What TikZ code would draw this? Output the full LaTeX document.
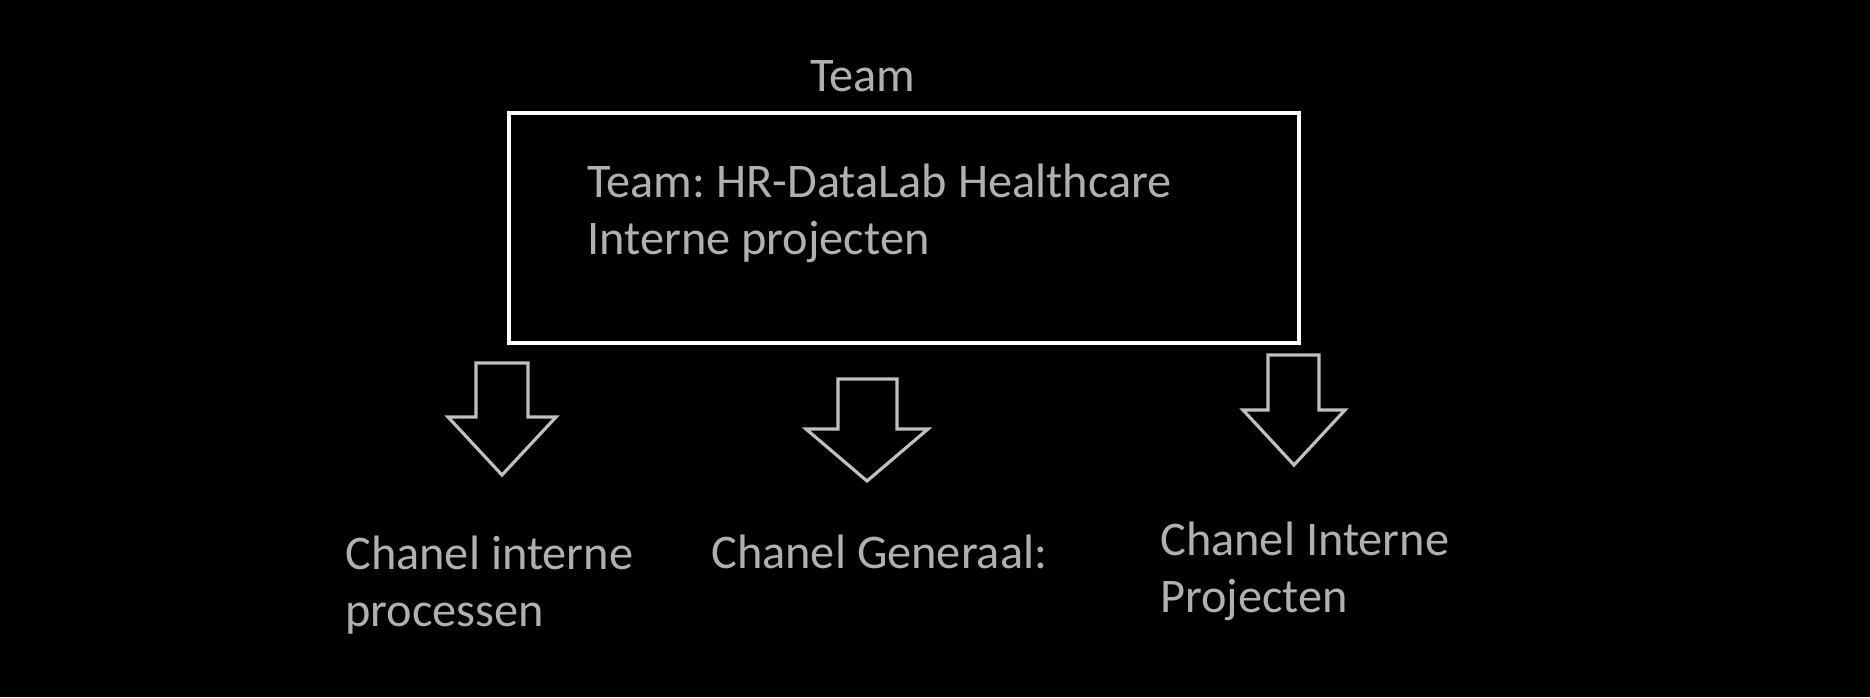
\documentclass[tikz,border=0pt]{standalone}
\usepackage{fontspec}
\setmainfont{Carlito}
\usepackage{tikz}
\usetikzlibrary{positioning}
\frenchspacing

\definecolor{txtgray}{HTML}{B0B0B0}
\definecolor{arrgray}{HTML}{C0C0C0}

\begin{document}
\begin{tikzpicture}[x=0.02cm,y=-0.02cm,
  label/.style={text=txtgray,font=\fontsize{27.5}{32.4}\selectfont,align=left,inner sep=0pt},
  blockarrow/.style={draw=arrgray,line width=1.8pt,line join=miter}]
  % Background
  \fill[black] (0,0) rectangle (1870,697);
  \useasboundingbox (0,0) rectangle (1870,697);
  % Team box
  \draw[white,line width=2.3pt] (509,113) rectangle (1299,343);
  \node[label,anchor=base] (title) at (863,91) {Team};
  \node[label,anchor=base west] (team) at (587,254) {Team: HR-DataLab Healthcare\\Interne projecten};
  % Arrows
  \draw[blockarrow] (476,363) -- (528,363) -- (528,417) -- (556,417) -- (502,475)
    -- (448,417) -- (476,417) -- cycle;
  \draw[blockarrow] (838,379) -- (897,379) -- (897,429) -- (928,429) -- (867,481)
    -- (806,429) -- (838,429) -- cycle;
  \draw[blockarrow] (1268,355) -- (1319,355) -- (1319,410) -- (1345,410) -- (1294,465)
    -- (1243,410) -- (1268,410) -- cycle;
  % Channels
  \node[label,anchor=base west] (proc) at (345,626) {Chanel interne\\processen};
  \node[label,anchor=base west] (gen) at (711,568) {Chanel Generaal:};
  \node[label,anchor=base west] (proj) at (1160,612) {Chanel Interne\\Projecten};
\end{tikzpicture}
\end{document}
